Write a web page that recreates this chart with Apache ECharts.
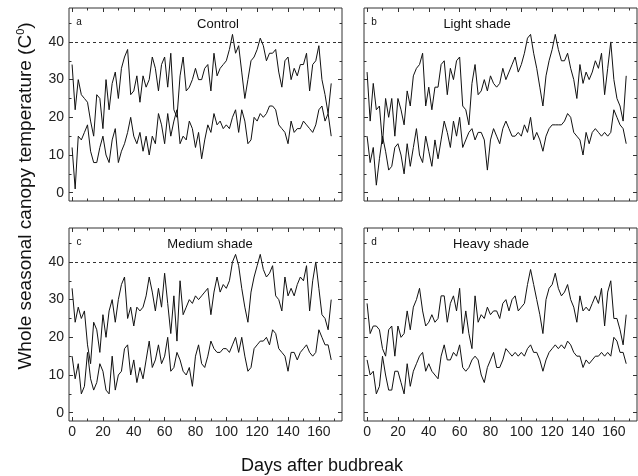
<!DOCTYPE html>
<html>
<head>
<meta charset="utf-8">
<script src="https://cdn.jsdelivr.net/npm/echarts@6.0.0/dist/echarts.min.js"></script>
<style>
  html, body { margin: 0; padding: 0; background: #fff; }
  #chart { width: 638px; height: 476px; }
</style>
</head>
<body>
<div id="chart"></div>
<script>
// days after budbreak (every second day)
var days = [0,2,4,6,8,10,12,14,16,18,20,22,24,26,28,30,32,34,36,38,40,42,44,46,48,50,52,54,56,58,
  60,62,64,66,68,70,72,74,76,78,80,82,84,86,88,90,92,94,96,98,100,102,104,106,108,110,112,114,116,118,
  120,122,124,126,128,130,132,134,136,138,140,142,144,146,148,150,152,154,156,158,160,162,164,166,168];

var controlMax = [34,22,30,26,25,24,19,15,26,25, 17,30,22,29,32,25,33,36,38,26, 27,31,24,31,28,30,36,33,27,34,
  36,28,37,22,20,31,36,27,28,30, 33,30,30,33,34,27,37,31,33,34, 35,38,42,37,39,32,25,30,35,36,
  38,41,39,35,37,37,38,32,28,35, 36,30,33,31,34,34,37,27,34,35, 39,30,26,21,29];
var controlMin = [12,1,15,14,16,18,11,8,8,12, 15,10,8,14,17,8,11,13,16,20, 15,13,16,11,15,10,15,13,21,18,
  13,21,15,19,22,13,15,14,19,17, 12,16,9,14,18,16,21,18,19,17, 18,17,20,22,16,22,19,13,14,20,
  19,21,20,21,23,23,22,18,17,16, 13,19,16,17,17,19,18,17,16,18, 22,23,19,21,15];

var lightMax = [32,19,29,22,23,13,25,20,25,15, 25,22,18,27,23,31,33,34,37,23, 28,22,28,28,34,35,26,33,30,35,
  36,23,22,18,29,34,26,27,30,27, 31,29,28,29,33,30,32,34,36,32, 34,37,41,42,37,33,28,23,31,35,
  38,42,38,35,35,37,33,30,25,34, 29,32,30,32,35,33,37,26,33,40, 30,25,23,19,31];
var lightMin = [15,8,12,2,9,15,11,6,7,12, 13,10,5,13,7,12,17,10,8,15, 11,7,14,9,14,19,16,12,19,15,
  20,12,14,16,17,14,16,16,14,6, 14,17,15,13,17,19,17,15,15,16, 15,18,16,20,14,16,14,11,15,17,
  18,18,18,18,19,21,20,16,15,14, 10,16,13,16,17,16,15,16,15,16, 22,20,18,17,13];

var mediumMax = [33,24,28,25,27,18,13,24,22,16, 26,20,27,30,24,30,34,36,25,28, 23,28,27,28,31,36,32,27,33,28,
  37,29,21,31,19,35,26,28,30,29, 31,30,31,32,33,26,32,36,32,34, 33,35,40,42,39,33,28,24,32,36,
  39,42,38,36,37,39,31,30,27,36, 31,33,31,34,36,35,39,27,35,40, 33,26,25,22,30];
var mediumMin = [15,9,13,5,7,16,9,6,8,13, 11,6,5,15,6,10,11,17,18,10, 14,8,12,9,14,19,12,14,18,13,
  15,20,11,12,16,14,11,10,12,7, 15,18,13,12,15,19,17,16,16,17, 17,16,18,20,16,20,15,11,12,17,
  18,19,19,20,18,22,21,17,16,15, 11,16,16,14,16,17,18,16,15,16, 22,20,18,18,14];

var heavyMax = [29,21,23,23,22,17,15,22,23,15, 23,20,21,27,22,28,30,33,27,23, 24,26,24,25,31,31,24,29,31,27,
  33,21,27,21,17,31,24,26,25,28, 26,27,27,25,29,30,27,30,31,27, 28,29,34,38,34,30,26,21,30,33,
  34,37,33,31,32,34,30,28,24,31, 27,28,27,29,31,29,33,23,32,35, 25,25,22,18,26];
var heavyMin = [14,10,11,5,7,15,10,6,6,11, 11,8,5,13,7,11,13,15,16,11, 13,11,10,9,15,18,14,14,16,15,
  18,12,11,12,14,15,14,10,8,12, 14,16,12,12,14,17,16,15,16,15, 16,15,17,18,16,16,14,11,14,16,
  17,18,17,18,17,19,18,16,15,15, 12,14,13,14,15,15,16,15,16,15, 20,19,16,16,13];

var xMajor = [0,20,40,60,80,100,120,140,160];
var xMinor = [10,30,50,70,90,110,130,150,170];
var yMajor = [0,10,20,30,40];
var yMinor = [5,15,25,35,45];
var threshold = 40;

var panels = [
  {title: 'Control',      letter: 'a', hi: controlMax, lo: controlMin, left: 69,  top: 8,   tx: 218, xLab: false, yLab: true},
  {title: 'Light shade',  letter: 'b', hi: lightMax,   lo: lightMin,   left: 364, top: 8,   tx: 477, xLab: false, yLab: false},
  {title: 'Medium shade', letter: 'c', hi: mediumMax,  lo: mediumMin,  left: 69,  top: 228, tx: 210, xLab: true,  yLab: true},
  {title: 'Heavy shade',  letter: 'd', hi: heavyMax,   lo: heavyMin,   left: 364, top: 228, tx: 491, xLab: true,  yLab: false}
];

var FONT = '"Liberation Sans", Arial, sans-serif';
var INK = '#111';

function pairs(vals) {
  return days.map(function (d, k) { return [d, vals[k]]; });
}

var grid = [], xAxis = [], yAxis = [], series = [], graphic = [];

panels.forEach(function (p, i) {
  grid.push({
    left: p.left, top: p.top, width: 273, height: 193,
    show: true, borderColor: '#333', borderWidth: 1,
    outerBoundsMode: 'none'
  });

  var xBase = {
    gridIndex: i, type: 'value', min: -2, max: 175,
    axisLine: {show: false, onZero: false}, splitLine: {show: false}
  };
  var yBase = {
    gridIndex: i, type: 'value', min: -2.2, max: 49,
    axisLine: {show: false, onZero: false}, splitLine: {show: false}
  };

  // ticks on all four sides (major + minor); labels only on the outer edges
  [['bottom', xMajor, 4, p.xLab], ['bottom', xMinor, 2.5, false],
   ['top', xMajor, 4, false], ['top', xMinor, 2.5, false]].forEach(function (a) {
    xAxis.push(Object.assign({}, xBase, {
      position: a[0],
      axisTick: {show: true, inside: true, length: a[2], customValues: a[1], lineStyle: {color: '#333'}},
      axisLabel: {show: a[3], customValues: a[1], margin: 4, color: '#222', fontSize: 14, fontFamily: FONT}
    }));
  });
  [['left', yMajor, 4, p.yLab], ['left', yMinor, 2.5, false],
   ['right', yMajor, 4, false], ['right', yMinor, 2.5, false]].forEach(function (a) {
    yAxis.push(Object.assign({}, yBase, {
      position: a[0],
      axisTick: {show: true, inside: true, length: a[2], customValues: a[1], lineStyle: {color: '#333'}},
      axisLabel: {show: a[3], customValues: a[1], margin: 5, color: '#222', fontSize: 14, fontFamily: FONT}
    }));
  });

  var xi = i * 4, yi = i * 4;
  series.push({
    type: 'line', xAxisIndex: xi, yAxisIndex: yi, data: pairs(p.hi),
    showSymbol: false, symbol: 'none', silent: true,
    lineStyle: {color: INK, width: 1},
    markLine: {
      silent: true, symbol: 'none', label: {show: false},
      lineStyle: {color: '#333', width: 1, type: [3, 3]},
      data: [{yAxis: threshold}]
    }
  });
  series.push({
    type: 'line', xAxisIndex: xi, yAxisIndex: yi, data: pairs(p.lo),
    showSymbol: false, symbol: 'none', silent: true,
    lineStyle: {color: INK, width: 1}
  });

  graphic.push({
    type: 'text', x: p.tx, y: p.top + 16,
    style: {text: p.title, fontSize: 13, fontFamily: FONT, fill: '#111', textAlign: 'center', textVerticalAlign: 'middle'}
  });
  graphic.push({
    type: 'text', x: p.left + 10, y: p.top + 14,
    style: {text: p.letter, fontSize: 10, fontFamily: FONT, fill: '#111', textAlign: 'center', textVerticalAlign: 'middle'}
  });
});

graphic.push({
  type: 'text', x: 26, y: 196, rotation: Math.PI / 2,
  style: {
    text: '{a|Whole seasonal canopy temperature (C}{s|0}{a|)}',
    rich: {
      a: {fontSize: 19, fontFamily: FONT, fill: '#111', lineHeight: 22},
      s: {fontSize: 11, fontFamily: FONT, fill: '#111', lineHeight: 12, verticalAlign: 'top'}
    },
    textAlign: 'center', textVerticalAlign: 'middle'
  }
});
graphic.push({
  type: 'text', x: 322, y: 466,
  style: {text: 'Days after budbreak', fontSize: 18, fontFamily: FONT, fill: '#111', textAlign: 'center', textVerticalAlign: 'middle'}
});

var chart = echarts.init(document.getElementById('chart'));
chart.setOption({
  animation: false,
  backgroundColor: '#fff',
  grid: grid,
  xAxis: xAxis,
  yAxis: yAxis,
  series: series,
  graphic: graphic
});
</script>
</body>
</html>
